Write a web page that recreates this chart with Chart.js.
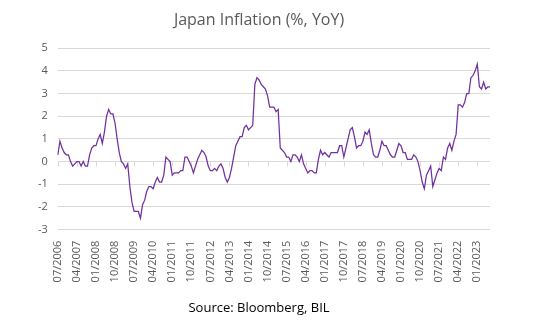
<!DOCTYPE html>
<html lang="en">
<head>
    <meta charset="UTF-8">
    <title>Japan Inflation (%, YoY)</title>
    <script src="https://cdn.jsdelivr.net/npm/chart.js"></script>
    <style>
        body {
            margin: 0;
            background-color: white;
        }
        #inflationChart {
            display: block;
        }
    </style>
</head>
<body>
<canvas id="inflationChart" width="545" height="332"></canvas>

<script>
    // Japan headline CPI, % change year on year, monthly from 07/2006 to 07/2023
    const startYear = 2006;
    const startMonth = 7;
    const cpiYoY = [
        0.3, 0.9, 0.6, 0.4, 0.3, 0.3,                               // 2006 Jul-Dec
        0.0, -0.2, -0.1, 0.0, 0.0, -0.2, 0.0, -0.2, -0.2, 0.3, 0.6, 0.7,   // 2007
        0.7, 1.0, 1.2, 0.8, 1.3, 2.0, 2.3, 2.1, 2.1, 1.7, 1.0, 0.4,        // 2008
        0.0, -0.1, -0.3, -0.1, -1.1, -1.8, -2.2, -2.2, -2.2, -2.5, -1.9, -1.7, // 2009
        -1.3, -1.1, -1.1, -1.2, -0.9, -0.7, -0.9, -0.9, -0.6, 0.2, 0.1, 0.0,   // 2010
        -0.6, -0.5, -0.5, -0.5, -0.4, -0.4, 0.2, 0.2, 0.0, -0.2, -0.5, -0.2,   // 2011
        0.1, 0.3, 0.5, 0.4, 0.2, -0.2, -0.4, -0.4, -0.3, -0.4, -0.2, -0.1,     // 2012
        -0.3, -0.7, -0.9, -0.7, -0.3, 0.2, 0.7, 0.9, 1.1, 1.1, 1.5, 1.6,       // 2013
        1.4, 1.5, 1.6, 3.4, 3.7, 3.6, 3.4, 3.3, 3.2, 2.9, 2.4, 2.4,            // 2014
        2.4, 2.2, 2.3, 0.6, 0.5, 0.4, 0.2, 0.2, 0.0, 0.3, 0.3, 0.2,            // 2015
        0.0, 0.3, -0.1, -0.3, -0.5, -0.4, -0.4, -0.5, -0.5, 0.1, 0.5, 0.3,     // 2016
        0.4, 0.3, 0.2, 0.4, 0.4, 0.4, 0.4, 0.7, 0.7, 0.2, 0.6, 1.0,            // 2017
        1.4, 1.5, 1.1, 0.6, 0.7, 0.7, 0.9, 1.3, 1.2, 1.4, 0.8, 0.3,            // 2018
        0.2, 0.2, 0.5, 0.9, 0.7, 0.7, 0.5, 0.3, 0.2, 0.2, 0.5, 0.8,            // 2019
        0.7, 0.4, 0.4, 0.1, 0.1, 0.1, 0.3, 0.2, 0.0, -0.4, -0.9, -1.2,         // 2020
        -0.6, -0.4, -0.2, -1.1, -0.8, -0.5, -0.3, -0.4, 0.2, 0.1, 0.6, 0.8,    // 2021
        0.5, 0.9, 1.2, 2.5, 2.5, 2.4, 2.6, 3.0, 3.0, 3.7, 3.8, 4.0,            // 2022
        4.3, 3.3, 3.2, 3.5, 3.2, 3.3, 3.3                                      // 2023 Jan-Jul
    ];
    const labelEvery = 9;   // a date label every 9 months
    const yTicks = { min: -3, max: 5, step: 1 };

    const monthLabels = cpiYoY.map((v, i) => {
        const m = (startMonth - 1 + i) % 12 + 1;
        const y = startYear + Math.floor((startMonth - 1 + i) / 12);
        return String(m).padStart(2, '0') + '/' + y;
    });

    const greyText = '#595959';
    const gridGrey = '#d9d9d9';

    // short tick marks hanging off the zero line under each dated label
    const zeroLineTicks = {
        id: 'zeroLineTicks',
        beforeDatasetsDraw(chart) {
            const x = chart.scales.x;
            const y0 = chart.scales.y.getPixelForValue(0);
            const ctx = chart.ctx;
            ctx.save();
            ctx.strokeStyle = gridGrey;
            ctx.lineWidth = 1;
            for (let i = 0; i < monthLabels.length; i += labelEvery) {
                const px = Math.round(x.getPixelForValue(i)) + 0.5;
                ctx.beginPath();
                ctx.moveTo(px, y0);
                ctx.lineTo(px, y0 + 5);
                ctx.stroke();
            }
            ctx.restore();
        }
    };

    const ctx = document.getElementById('inflationChart').getContext('2d');
    new Chart(ctx, {
        type: 'line',
        data: {
            labels: monthLabels,
            datasets: [{
                label: 'Japan CPI YoY',
                data: cpiYoY,
                borderColor: '#7030a0',
                borderWidth: 1.25,
                pointRadius: 0,
                tension: 0,
                fill: false
            }]
        },
        plugins: [zeroLineTicks],
        options: {
            responsive: false,
            animation: false,
            layout: {
                padding: { left: 28, right: 55, top: 0, bottom: 6 }
            },
            plugins: {
                legend: { display: false },
                tooltip: { enabled: false },
                title: {
                    display: true,
                    text: 'Japan Inflation (%, YoY)',
                    color: greyText,
                    font: { family: 'Open Sans', size: 16, weight: 'normal' },
                    padding: { top: 11, bottom: 18 }
                },
                subtitle: {
                    display: true,
                    position: 'bottom',
                    text: 'Source: Bloomberg, BIL',
                    color: '#000000',
                    font: { family: 'Open Sans', size: 13, weight: 'normal' },
                    padding: { top: 15, bottom: 10 }
                }
            },
            scales: {
                x: {
                    offset: false,
                    grid: { display: false },
                    border: { display: false },
                    ticks: {
                        autoSkip: false,
                        minRotation: 90,
                        maxRotation: 90,
                        color: greyText,
                        padding: 3,
                        font: { family: 'Open Sans', size: 11 },
                        callback: function (value, index) {
                            return index % labelEvery === 0 ? this.getLabelForValue(value) : null;
                        }
                    }
                },
                y: {
                    min: yTicks.min,
                    max: yTicks.max,
                    border: { display: false },
                    grid: { color: gridGrey, drawTicks: false },
                    ticks: {
                        stepSize: yTicks.step,
                        color: greyText,
                        padding: 10,
                        font: { family: 'Open Sans', size: 11 }
                    }
                }
            }
        }
    });
</script>
</body>
</html>
